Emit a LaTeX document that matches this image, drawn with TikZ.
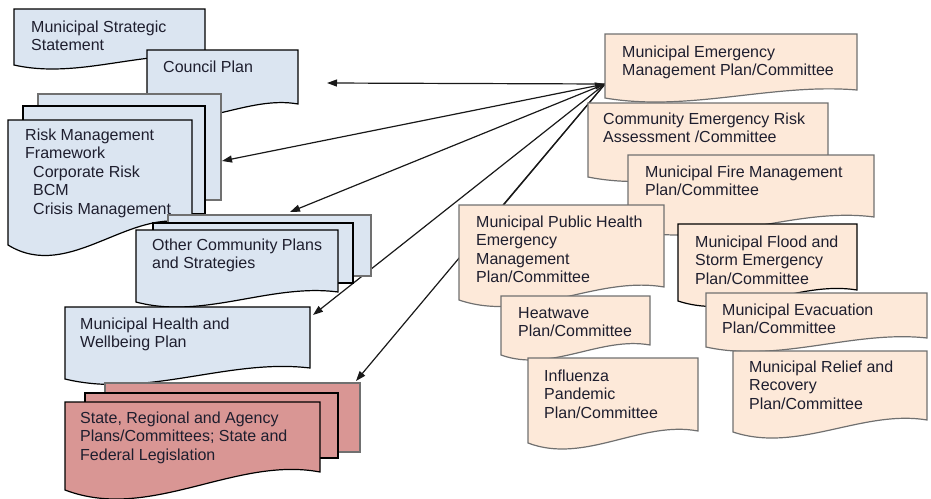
\documentclass[tikz,border=0pt]{standalone}
\usepackage{fontspec}
\setmainfont{Liberation Sans}
\usetikzlibrary{arrows.meta}

\definecolor{planblue}{HTML}{DBE5F1}
\definecolor{emorange}{HTML}{FDE9D9}
\definecolor{staterose}{HTML}{D99694}
\definecolor{inkdark}{HTML}{1E1E2E}
\definecolor{edgegrey}{HTML}{707070}

\tikzset{
  docedge/.style={line width=1.2pt, line join=miter},
  bluedoc/.style={docedge, draw=black, fill=planblue},
  bluelayer/.style={docedge, draw=edgegrey, fill=planblue},
  rosedoc/.style={docedge, draw=black, fill=staterose},
  roselayer/.style={docedge, draw=edgegrey, fill=staterose},
  orangedoc/.style={docedge, draw=edgegrey, fill=emorange},
  orangedark/.style={docedge, draw=black, fill=emorange},
  % nodes are placed by the baseline of their last line
  doctext/.style={font=\fontsize{16}{18.6}\selectfont, text=inkdark,
    align=left, anchor=base west, inner sep=0pt},
  tip/.tip={Triangle[length=10pt,width=7pt]},
  link/.style={line width=1.2pt, draw=black!90, -tip},
  twoway/.style={line width=1.2pt, draw=black!90, tip-tip},
  plainlink/.style={line width=1.2pt, draw=black!90}
}

% document shape: left, top, right, bottom (right end), rise of wave, style
\newcommand\docshape[6]{%
  \filldraw[#6] (#1,#2) -- (#3,#2) -- (#3,#4)
    .. controls ({#3-(#3-#1)/3},{#4-0.9*#5}) and ({#1+(#3-#1)/3},{#4+2.8*#5})
    .. (#1,{#4+#5}) -- cycle;}
% rear sheet of a stacked document
\newcommand\docsheet[5]{\filldraw[#5] (#1,#2) rectangle (#3,#4);}

\begin{document}
\begin{tikzpicture}[x=1pt, y=-1pt]
\useasboundingbox (0,0) rectangle (931,498);

% connection points
\coordinate (hub)         at (605,84);
\coordinate (council-tip) at (327,83);
\coordinate (risk-tip)    at (222,161);
\coordinate (other-tip)   at (290,212);
\coordinate (health-tip)  at (313,315);
\coordinate (state-tip)   at (356,381);
\coordinate (ph-port)     at (503,205);

% connectors from the emergency management plan
\draw[link]      (hub) -- (council-tip);
\draw[twoway]    (hub) -- (risk-tip);
\draw[link]      (hub) -- (other-tip);
\draw[link]      (hub) -- (health-tip);
\draw[link]      (hub) -- (state-tip);
\draw[plainlink] (ph-port) -- (hub);

% ---------- council plans (left) ----------
\docshape{14}{9}{205}{57}{8}{bluedoc}
\node[doctext] (mss) at (31,50.6) {Municipal Strategic\\Statement};

\docshape{147}{50}{298}{104}{10}{bluedoc}
\node[doctext] (council) at (163,72) {Council Plan};

\docsheet{38}{94}{221}{200}{bluelayer}
\docsheet{23}{106}{205}{214}{bluedoc}
\docshape{8}{120}{192}{224}{21}{bluedoc}
\node[doctext] (risk) at (25,214.4) {Risk Management\\Framework\\
  \hspace*{8pt}Corporate Risk\\\hspace*{8pt}BCM\\\hspace*{8pt}Crisis Management};

\docsheet{168}{215}{371}{276}{bluelayer}
\docsheet{153}{223}{353}{283}{bluedoc}
\docshape{136}{230}{338}{292}{10}{bluedoc}
\node[doctext] (other) at (152,268.6) {Other Community Plans\\and Strategies};

\docshape{65}{307}{310}{368}{11}{bluedoc}
\node[doctext] (health) at (80,347.6) {Municipal Health and\\Wellbeing Plan};

\docsheet{105}{383}{360}{452}{roselayer}
\docsheet{85}{393}{338}{458}{rosedoc}
\docshape{65}{402}{320}{472}{18}{rosedoc}
\node[doctext] (state) at (80,460.2) {State, Regional and Agency\\Plans/Committees; State and\\Federal Legislation};

% ---------- emergency management plans (right) ----------
\docshape{605}{34}{857}{90}{8}{orangedoc}
\node[doctext] (memp) at (622,75.6) {Municipal Emergency\\Management Plan/Committee};

\docshape{588}{103}{828}{168}{9}{orangedoc}
\node[doctext] (cera) at (603,142.6) {Community Emergency Risk\\Assessment /Committee};

\docshape{628}{155}{874}{217}{12}{orangedoc}
\node[doctext] (fire) at (645,195.6) {Municipal Fire Management\\Plan/Committee};

\docshape{459}{205}{664}{287}{13}{orangedoc}
\node[doctext] (ph) at (476,282.8) {Municipal Public Health\\Emergency\\Management\\Plan/Committee};

\docshape{678}{224}{857}{290}{11}{orangedark}
\node[doctext] (flood) at (695,284.2) {Municipal Flood and\\Storm Emergency\\Plan/Committee};

\docshape{501}{296}{650}{345}{10}{orangedoc}
\node[doctext] (heat) at (518,336.6) {Heatwave\\Plan/Committee};

\docshape{706}{293}{927}{338}{9}{orangedoc}
\node[doctext] (evac) at (722,333.6) {Municipal Evacuation\\Plan/Committee};

\docshape{528}{358}{698}{431}{12}{orangedoc}
\node[doctext] (flu) at (544,418.2) {Influenza\\Pandemic\\Plan/Committee};

\docshape{733}{351}{927}{420}{12}{orangedoc}
\node[doctext] (relief) at (749,409.2) {Municipal Relief and\\Recovery\\Plan/Committee};

\end{tikzpicture}
\end{document}
